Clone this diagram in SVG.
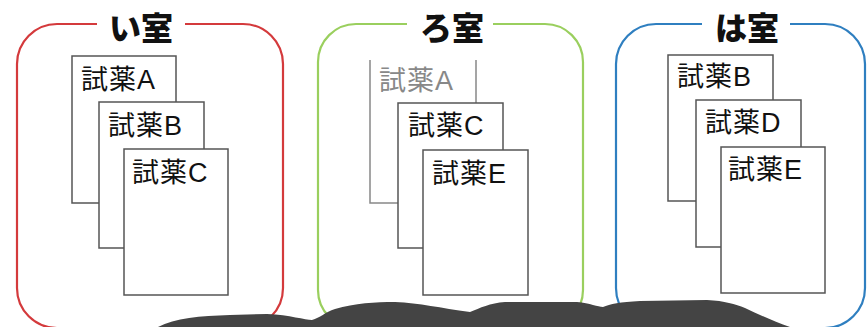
<svg xmlns="http://www.w3.org/2000/svg" width="868" height="327" viewBox="0 0 868 327">
<style>
.room{fill:none;stroke-width:2.2}
.title{font-family:"Noto Sans CJK JP","Noto Sans",sans-serif;font-weight:900;font-size:32px;fill:#111;text-anchor:middle}
.doc rect{fill:#fff;stroke:#555;stroke-width:1.5}
.doc text{font-family:"Liberation Sans","Noto Sans CJK JP",sans-serif;font-size:27px;fill:#111;letter-spacing:1px}
.faded text{fill:#888}
</style>
<rect width="868" height="327" fill="#fff"/>
<g id="room-i">
<path class="room" stroke="#d43a3c" d="M185,24 H243 A40,40 0 0 1 283,64 V288 A40,40 0 0 1 243,328 H57 A40,40 0 0 1 17,288 V64 A40,40 0 0 1 57,24 H97"/>
<text class="title" x="141" y="40">い室</text>
</g>
<g id="room-ro">
<path class="room" stroke="#9acf5e" d="M493,24 H545 A38,38 0 0 1 583,62 V290 A38,38 0 0 1 545,328 H356 A38,38 0 0 1 318,290 V62 A38,38 0 0 1 356,24 H407"/>
<text class="title" x="452" y="40">ろ室</text>
</g>
<g id="room-ha">
<path class="room" stroke="#2f7fc0" d="M790,24 H825 A40,40 0 0 1 865,64 V288 A40,40 0 0 1 825,328 H656 A40,40 0 0 1 616,288 V64 A40,40 0 0 1 656,24 H702"/>
<text class="title" x="747" y="40">は室</text>
</g>
<g id="i-A" class="doc"><rect x="72" y="56" width="104" height="147"/><text x="81" y="89">試薬A</text></g>
<g id="i-B" class="doc"><rect x="99" y="102" width="105" height="146"/><text x="108" y="135">試薬B</text></g>
<g id="i-C" class="doc"><rect x="124" y="149" width="104" height="146"/><text x="132" y="182">試薬C</text></g>
<g id="ro-A" class="doc faded"><path d="M370,60 V203 H476 V60" fill="#fff" stroke="#888" stroke-width="1.5"/><text x="379" y="90">試薬A</text></g>
<g id="ro-C" class="doc"><rect x="398" y="103" width="105" height="145"/><text x="408" y="135">試薬C</text></g>
<g id="ro-E" class="doc"><rect x="423" y="150" width="105" height="145"/><text x="432" y="183">試薬E</text></g>
<g id="ha-B" class="doc"><rect x="668" y="55" width="105" height="146"/><text x="677" y="86">試薬B</text></g>
<g id="ha-D" class="doc"><rect x="696" y="100" width="105" height="147"/><text x="705" y="132">試薬D</text></g>
<g id="ha-E" class="doc"><rect x="721" y="147" width="104" height="146"/><text x="728" y="179">試薬E</text></g>
<g id="ground">
<path fill="#444" d="M158,327 C175,318 200,316 230,315 L267,314 C290,315 305,320 312,320 C320,318 325,312 335,309 C355,303 375,302 395,302 C420,303 440,308 470,312 C480,308 490,303 505,302 L577,302 C590,303 598,307 603,307 C610,304 620,302 640,301 L707,300 C725,301 735,304 745,308 C760,315 775,322 790,327 Z"/>
</g>
<g id="connectors"/>
</svg>
